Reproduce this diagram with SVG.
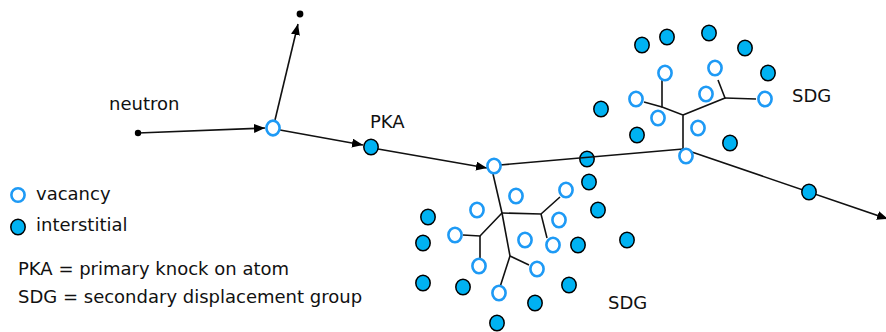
<svg xmlns="http://www.w3.org/2000/svg" width="886" height="332" viewBox="0 0 886 332">
  <defs>
    <style>
      .ln { fill: none; stroke: #111; stroke-width: 1.6; }
      .vac { fill: #fff; stroke: #1e9af5; stroke-width: 2.6; }
      .int { fill: #00b2f2; stroke: #000; stroke-width: 1.5; }
      .dot { fill: #000; }
      .lbl { font-family: "DejaVu Sans", Verdana, sans-serif; font-size: 18px; fill: #111; }
    </style>
    <marker id="arrow" markerUnits="userSpaceOnUse" markerWidth="12" markerHeight="10" refX="11" refY="4.5" orient="auto">
      <path d="M0,0 L11,4.5 L0,9 z" fill="#000"/>
    </marker>
  </defs>
  <rect width="886" height="332" fill="#fff"/>

  <!-- interstitial crossed by the track -->
  <g id="int-track-1"><ellipse class="int" cx="587" cy="159" rx="7.2" ry="7.8"/></g>

  <!-- tracks and cascade branches -->
  <g id="connectors">
    <line class="ln" x1="138" y1="133" x2="265" y2="128" marker-end="url(#arrow)"/>
    <line class="ln" x1="275" y1="120" x2="298" y2="24" marker-end="url(#arrow)"/>
    <line class="ln" x1="280" y1="130" x2="363" y2="145" marker-end="url(#arrow)"/>
    <line class="ln" x1="378" y1="149" x2="487" y2="168" marker-end="url(#arrow)"/>
    <polyline class="ln" points="500,165 683,149"/>
    <line class="ln" x1="683" y1="149" x2="888" y2="219" marker-end="url(#arrow)"/>
    <!-- lower cascade -->
    <polyline class="ln" points="493,174 502,213 510,256 500,287"/>
    <polyline class="ln" points="502,213 541,214 560,197"/>
    <polyline class="ln" points="541,214 547,238"/>
    <polyline class="ln" points="502,213 480,236 463,235"/>
    <polyline class="ln" points="480,236 480,258"/>
    <polyline class="ln" points="510,256 529,265"/>
    <!-- upper cascade -->
    <polyline class="ln" points="683,149 683,115 662,107 662,80"/>
    <polyline class="ln" points="662,107 644,102"/>
    <polyline class="ln" points="683,115 725,98 718,80"/>
    <polyline class="ln" points="725,98 756,99"/>
  </g>

  <!-- end points of the incoming and scattered neutron -->
  <g id="neutron-source"><circle class="dot" cx="138" cy="133" r="3.2"/></g>
  <g id="neutron-out"><circle class="dot" cx="300" cy="14" r="3.4"/></g>

  <!-- vacancies -->
  <g id="vac-neutron"><ellipse class="vac" cx="273" cy="128" rx="6.6" ry="7.4"/></g>
  <g id="vac-cascade"><ellipse class="vac" cx="494" cy="166" rx="6.6" ry="7.2"/></g>
  <g id="vac-l1"><ellipse class="vac" cx="516" cy="196" rx="6.6" ry="7.2"/></g>
  <g id="vac-l2"><ellipse class="vac" cx="477" cy="210" rx="6.6" ry="7.2"/></g>
  <g id="vac-l3"><ellipse class="vac" cx="566" cy="190" rx="6.6" ry="7.2"/></g>
  <g id="vac-l4"><ellipse class="vac" cx="559" cy="220" rx="6.6" ry="7.2"/></g>
  <g id="vac-l5"><ellipse class="vac" cx="455" cy="235" rx="6.6" ry="7.2"/></g>
  <g id="vac-l6"><ellipse class="vac" cx="525" cy="240" rx="6.6" ry="7.2"/></g>
  <g id="vac-l7"><ellipse class="vac" cx="553" cy="245" rx="6.6" ry="7.2"/></g>
  <g id="vac-l8"><ellipse class="vac" cx="479" cy="266" rx="6.6" ry="7.2"/></g>
  <g id="vac-l9"><ellipse class="vac" cx="537" cy="269" rx="6.6" ry="7.2"/></g>
  <g id="vac-l10"><ellipse class="vac" cx="499" cy="293" rx="6.6" ry="7.2"/></g>
  <g id="vac-u1"><ellipse class="vac" cx="665" cy="73" rx="6.6" ry="7.2"/></g>
  <g id="vac-u2"><ellipse class="vac" cx="715" cy="68" rx="6.6" ry="7.2"/></g>
  <g id="vac-u3"><ellipse class="vac" cx="636" cy="99" rx="6.6" ry="7.2"/></g>
  <g id="vac-u4"><ellipse class="vac" cx="706" cy="94" rx="6.6" ry="7.2"/></g>
  <g id="vac-u5"><ellipse class="vac" cx="765" cy="99" rx="6.6" ry="7.2"/></g>
  <g id="vac-u6"><ellipse class="vac" cx="658" cy="118" rx="6.6" ry="7.2"/></g>
  <g id="vac-u7"><ellipse class="vac" cx="698" cy="128" rx="6.6" ry="7.2"/></g>
  <g id="vac-u8"><ellipse class="vac" cx="686" cy="156" rx="6.6" ry="7.2"/></g>

  <!-- interstitials -->
  <g id="int-pka"><ellipse class="int" cx="371" cy="147" rx="7.2" ry="7.8"/></g>
  <g id="int-l1"><ellipse class="int" cx="589" cy="182" rx="7.2" ry="7.8"/></g>
  <g id="int-l2"><ellipse class="int" cx="598" cy="210" rx="7.2" ry="7.8"/></g>
  <g id="int-l3"><ellipse class="int" cx="428" cy="217" rx="7.2" ry="7.8"/></g>
  <g id="int-l4"><ellipse class="int" cx="423" cy="243" rx="7.2" ry="7.8"/></g>
  <g id="int-l5"><ellipse class="int" cx="578" cy="245" rx="7.2" ry="7.8"/></g>
  <g id="int-l6"><ellipse class="int" cx="627" cy="240" rx="7.2" ry="7.8"/></g>
  <g id="int-l7"><ellipse class="int" cx="423" cy="283" rx="7.2" ry="7.8"/></g>
  <g id="int-l8"><ellipse class="int" cx="463" cy="287" rx="7.2" ry="7.8"/></g>
  <g id="int-l9"><ellipse class="int" cx="569" cy="285" rx="7.2" ry="7.8"/></g>
  <g id="int-l10"><ellipse class="int" cx="535" cy="303" rx="7.2" ry="7.8"/></g>
  <g id="int-l11"><ellipse class="int" cx="497" cy="323" rx="7.2" ry="7.8"/></g>
  <g id="int-u1"><ellipse class="int" cx="642" cy="45" rx="7.2" ry="7.8"/></g>
  <g id="int-u2"><ellipse class="int" cx="667" cy="37" rx="7.2" ry="7.8"/></g>
  <g id="int-u3"><ellipse class="int" cx="709" cy="33" rx="7.2" ry="7.8"/></g>
  <g id="int-u4"><ellipse class="int" cx="745" cy="48" rx="7.2" ry="7.8"/></g>
  <g id="int-u5"><ellipse class="int" cx="768" cy="73" rx="7.2" ry="7.8"/></g>
  <g id="int-u6"><ellipse class="int" cx="601" cy="109" rx="7.2" ry="7.8"/></g>
  <g id="int-u7"><ellipse class="int" cx="637" cy="135" rx="7.2" ry="7.8"/></g>
  <g id="int-u8"><ellipse class="int" cx="730" cy="143" rx="7.2" ry="7.8"/></g>
  <g id="int-track-2"><ellipse class="int" cx="809" cy="192" rx="7.2" ry="7.8"/></g>

  <!-- labels -->
  <g id="labels">
    <text class="lbl" x="109" y="110">neutron</text>
    <text class="lbl" x="370" y="128">PKA</text>
    <text class="lbl" x="792" y="102">SDG</text>
    <text class="lbl" x="608" y="309">SDG</text>
  </g>

  <!-- legend -->
  <g id="legend">
    <ellipse class="vac" cx="18" cy="195" rx="6.6" ry="6.8"/>
    <text class="lbl" x="36" y="200">vacancy</text>
    <ellipse class="int" cx="18" cy="227" rx="7.2" ry="7.8"/>
    <text class="lbl" x="36" y="231">interstitial</text>
    <text class="lbl" x="18" y="275">PKA = primary knock on atom</text>
    <text class="lbl" x="18" y="303">SDG = secondary displacement group</text>
  </g>
</svg>
